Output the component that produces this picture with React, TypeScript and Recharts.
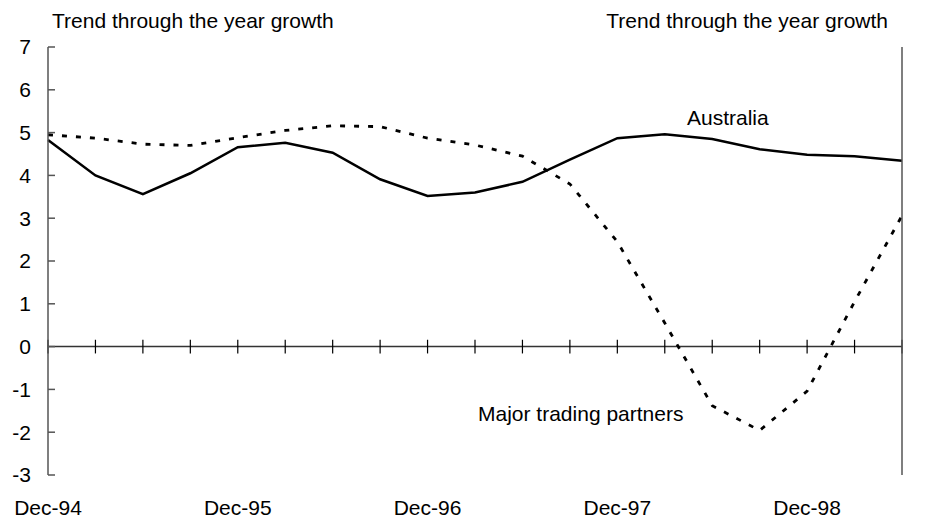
import { LineChart, Line, XAxis, YAxis, ReferenceLine } from "recharts";

const quarters = [
  "Dec-94", "Mar-95", "Jun-95", "Sep-95",
  "Dec-95", "Mar-96", "Jun-96", "Sep-96",
  "Dec-96", "Mar-97", "Jun-97", "Sep-97",
  "Dec-97", "Mar-98", "Jun-98", "Sep-98",
  "Dec-98", "Mar-99", "Jun-99",
];

const australia = [
  4.83, 4.0, 3.56, 4.05, 4.66, 4.76, 4.53, 3.91, 3.52, 3.6,
  3.85, 4.37, 4.87, 4.96, 4.85, 4.61, 4.48, 4.45, 4.34,
];

const tradingPartners = [
  4.95, 4.87, 4.73, 4.7, 4.88, 5.05, 5.16, 5.14, 4.87, 4.71,
  4.45, 3.8, 2.45, 0.55, -1.38, -1.96, -1.04, 1.05, 3.06,
];

const yTicks = [-3, -2, -1, 0, 1, 2, 3, 4, 5, 6, 7];

const axisTitle = "Trend through the year growth";

const chartData = quarters.map((q, i) => ({
  quarter: q,
  australia: australia[i],
  partners: tradingPartners[i],
}));

const font = "'Liberation Sans', Arial, sans-serif";
const axisGrey = "#555";

// y-axis tick: label outside, short tick mark pointing into the plot
function LeftTick(props: any) {
  const { x, y, payload } = props;
  return (
    <g>
      <line x1={x + 17} x2={x + 24} y1={y} y2={y} stroke={axisGrey} strokeWidth={1.5} />
      <text x={x} y={y} dy="0.355em" textAnchor="end" fontSize={21} fontFamily={font} fill="#000">
        {payload.value}
      </text>
    </g>
  );
}

function RightTick(props: any) {
  const { x, y, payload } = props;
  return (
    <g>
      <line x1={x - 16} x2={x - 23} y1={y} y2={y} stroke={axisGrey} strokeWidth={1.5} />
      <text x={x} y={y} dy="0.355em" textAnchor="start" fontSize={21} fontFamily={font} fill="#000">
        {payload.value}
      </text>
    </g>
  );
}

export default function App() {
  return (
    <div style={{ position: "absolute", left: 0, top: 0, width: 943, height: 520, background: "#fff" }}>
      <LineChart
        width={943}
        height={520}
        data={chartData}
        margin={{ top: 47, right: 0, left: 0, bottom: 0 }}
        style={{ fontFamily: font }}
      >
        <XAxis
          dataKey="quarter"
          interval={3}
          axisLine={false}
          tickLine={false}
          tickSize={0}
          tickMargin={25}
          height={45}
          tick={{ fill: "#000", fontSize: 21, fontFamily: font }}
        />
        <YAxis
          yAxisId="left"
          orientation="left"
          domain={[-3, 7]}
          ticks={yTicks}
          width={48}
          tickSize={0}
          tickMargin={17}
          axisLine={{ stroke: axisGrey, strokeWidth: 1.5 }}
          tickLine={false}
          tick={<LeftTick />}
        />
        <YAxis
          yAxisId="right"
          orientation="right"
          domain={[-3, 7]}
          ticks={yTicks}
          width={41}
          tickSize={0}
          tickMargin={16}
          axisLine={{ stroke: axisGrey, strokeWidth: 1.5 }}
          tickLine={false}
          tick={<RightTick />}
        />
        <ReferenceLine yAxisId="left" y={0} stroke="#333" strokeWidth={1.5} />
        {quarters.map((q) => (
          <ReferenceLine
            key={q}
            yAxisId="left"
            segment={[
              { x: q, y: -0.16 },
              { x: q, y: 0.16 },
            ]}
            stroke="#000"
            strokeWidth={1.2}
          />
        ))}
        <Line
          yAxisId="left"
          type="linear"
          dataKey="australia"
          stroke="#000"
          strokeWidth={2.5}
          dot={false}
          isAnimationActive={false}
        />
        <Line
          yAxisId="left"
          type="linear"
          dataKey="partners"
          stroke="#000"
          strokeWidth={2.8}
          strokeDasharray="5 9"
          dot={false}
          isAnimationActive={false}
        />
        <text x={52} y={28} fontSize={21} fontFamily={font} fill="#000">
          {axisTitle}
        </text>
        <text x={888} y={28} fontSize={21} fontFamily={font} fill="#000" textAnchor="end">
          {axisTitle}
        </text>
        <text x={687} y={125} fontSize={21} fontFamily={font} fill="#000">
          Australia
        </text>
        <text x={478} y={421} fontSize={21} fontFamily={font} fill="#000">
          Major trading partners
        </text>
      </LineChart>
    </div>
  );
}
